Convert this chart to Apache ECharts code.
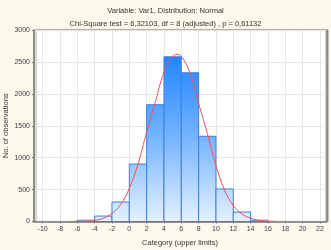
<!DOCTYPE html>
<html>
<head>
<meta charset="utf-8">
<script src="https://cdn.jsdelivr.net/npm/echarts@6/dist/echarts.min.js"></script>
<style>
html,body{margin:0;padding:0;background:#fdf8ec;}
#chart{width:331px;height:250px;}
</style>
</head>
<body>
<div id="chart"></div>
<script>
// Histogram bins (lower, upper limits) and observed counts
const binLower = [-6, -4, -2, 0, 2, 4, 6, 8, 10, 12, 14];
const binUpper = [-4, -2, 0, 2, 4, 6, 8, 10, 12, 14, 16];
const counts = [20, 85, 305, 900, 1830, 2580, 2330, 1335, 510, 148, 20];

// Fitted normal curve
const curveX = [-7, -6, -5, -4, -3, -2, -1, 0, 1, 2, 3, 4, 5, 5.5, 6, 7, 8, 9, 10, 11, 12, 13, 14, 15, 16, 17];
const curveY = [0, 2, 6, 18, 50, 125, 265, 520, 900, 1400, 1870, 2340, 2590, 2620, 2590, 2330, 1850, 1380, 880, 490, 250, 118, 50, 18, 6, 2];

// Axis ticks
const xTicks = [-10, -8, -6, -4, -2, 0, 2, 4, 6, 8, 10, 12, 14, 16, 18, 20, 22];

const titleText = 'Variable: Var1, Distribution: Normal';
const subText = 'Chi-Square test = 6,32103, df = 8 (adjusted) , p = 0,61132';
const xName = 'Category (upper limits)';
const yName = 'No. of observations';

const barData = binLower.map((l, i) => [l, binUpper[i], counts[i]]);
const lineData = curveX.map((x, i) => [x, curveY[i]]);

const chart = echarts.init(document.getElementById('chart'));
const fontFam = 'Liberation Sans, Arial, sans-serif';
chart.setOption({
  backgroundColor: '#fdf8ec',
  animation: false,
  title: [
    {text: titleText, left: 'center', top: 2,
     textStyle: {fontFamily: fontFam, fontSize: 7.5, fontWeight: 'normal', color: '#333'}},
    {text: subText, left: 'center', top: 14.5,
     textStyle: {fontFamily: fontFam, fontSize: 7.5, fontWeight: 'normal', color: '#333'}}
  ],
  grid: {
    left: 34, top: 30, right: 5, bottom: 28.5,
    outerBoundsMode: 'none', containLabel: false,
    show: true, backgroundColor: '#ffffff', borderColor: '#999', borderWidth: 1,
    shadowColor: 'rgba(0,0,0,0.35)', shadowOffsetX: 2, shadowOffsetY: 0, shadowBlur: 1
  },
  xAxis: {
    type: 'value', min: -11, max: 22.7,
    name: xName, nameLocation: 'middle', nameGap: 17, nameMoveOverlap: false,
    nameTextStyle: {fontFamily: fontFam, fontSize: 7.5, color: '#333'},
    axisLine: {show: true, onZero: false, lineStyle: {color: '#777', width: 1.5}},
    axisTick: {show: true, length: 2, customValues: xTicks, lineStyle: {color: '#777'}},
    axisLabel: {customValues: xTicks, margin: 4, fontFamily: fontFam, fontSize: 7, color: '#3c3c4c'},
    splitLine: {show: true, lineStyle: {color: '#e6e6e6', width: 1}}
  },
  yAxis: {
    type: 'value', min: 0, max: 3000, interval: 500,
    name: yName, nameLocation: 'middle', nameGap: 24, nameMoveOverlap: false,
    nameTextStyle: {fontFamily: fontFam, fontSize: 7.5, color: '#333'},
    axisLine: {show: true, onZero: false, lineStyle: {color: '#777', width: 1.5}},
    axisTick: {show: true, length: 2, lineStyle: {color: '#777'}},
    axisLabel: {margin: 4, fontFamily: fontFam, fontSize: 7, color: '#3c3c4c',
                formatter: function (v) { return String(v); }},
    splitLine: {show: true, lineStyle: {color: '#e6e6e6', width: 1}}
  },
  series: [
    {
      type: 'custom',
      data: barData,
      encode: {x: [0, 1], y: 2},
      renderItem: function (params, api) {
        const p0 = api.coord([api.value(0), api.value(2)]);
        const p1 = api.coord([api.value(1), 0]);
        const gTop = api.coord([0, 2800])[1];
        const gBot = api.coord([0, 0])[1];
        return {
          type: 'rect',
          shape: {x: p0[0], y: p0[1], width: p1[0] - p0[0], height: p1[1] - p0[1]},
          style: {
            fill: new echarts.graphic.LinearGradient(0, gTop, 0, gBot, [
              {offset: 0, color: '#1280ff'},
              {offset: 0.5, color: '#6fb0ff'},
              {offset: 1, color: '#e4f1ff'}
            ], true),
            stroke: '#3f7fe4',
            lineWidth: 1
          }
        };
      },
      z: 2
    },
    {
      type: 'line',
      data: lineData,
      smooth: 0.4,
      showSymbol: false,
      lineStyle: {color: '#ff4d4d', width: 1},
      z: 3
    }
  ]
});
</script>
</body>
</html>
